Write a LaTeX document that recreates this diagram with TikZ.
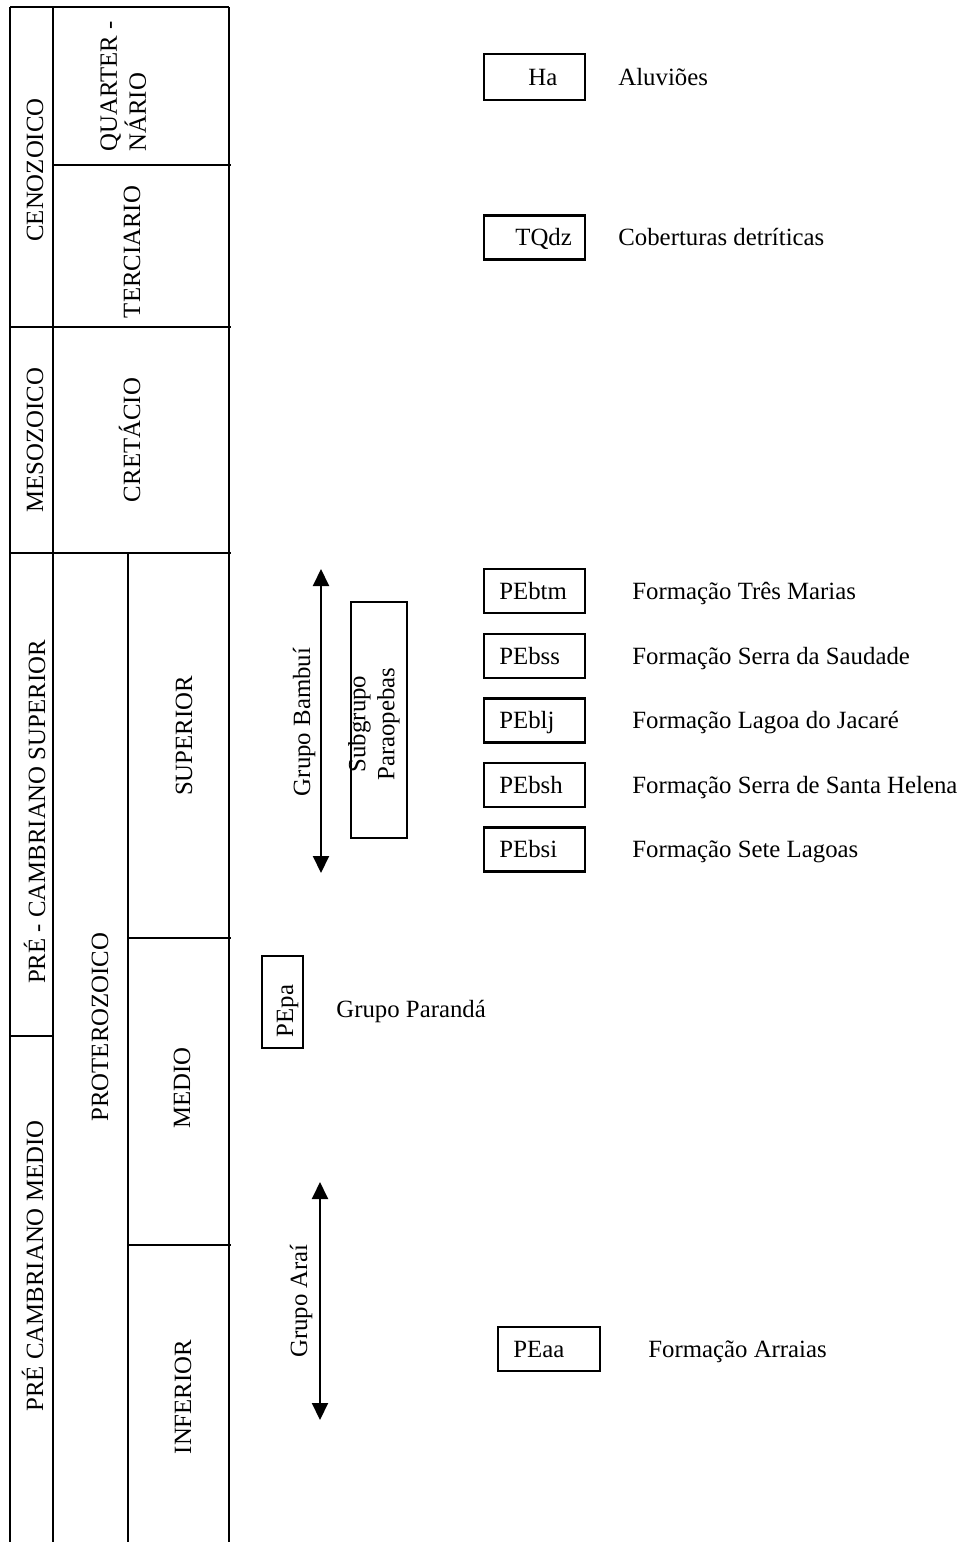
\documentclass[tikz,border=0pt]{standalone}
\usepackage{fontspec}
\setmainfont{Liberation Serif}
\usetikzlibrary{arrows.meta}
\begin{document}
\begin{tikzpicture}[x=0.5pt,y=-0.5pt,
  font=\fontsize{12.4}{14.5}\selectfont,
  rule/.style={line width=1pt},
  unitbox/.style={draw, line width=1.4pt, minimum width=50.5pt, minimum height=22pt, inner sep=0pt},
  tallbox/.style={draw, line width=1.3pt, inner sep=0pt},
  txt/.style={anchor=base west, inner sep=0pt},
  vlab/.style={rotate=90, anchor=base, inner sep=0pt},
  span/.style={line width=1pt, {Triangle[length=8.5pt,width=8pt]}-{Triangle[length=8.5pt,width=8pt]}}]
\useasboundingbox (0,0) rectangle (960,1542);
% ---- table grid ----
\draw[rule] (10,7) -- (229,7);
\draw[rule] (10,7) -- (10,1542);
\draw[rule] (53,7) -- (53,1542);
\draw[rule] (229,7) -- (229,1542);
\draw[rule] (128,553) -- (128,1542);
\draw[rule] (53,165) -- (231,165);
\draw[rule] (10,327) -- (231,327);
\draw[rule] (10,553) -- (231,553);
\draw[rule] (128,938) -- (231,938);
\draw[rule] (10,1036) -- (53,1036);
\draw[rule] (128,1245) -- (231,1245);
% ---- table labels ----
\node[vlab] (ceno) at (43,170) {CENOZOICO};
\node[rotate=90, anchor=north west, inner sep=0pt, align=left] (quat) at (100,152) {QUARTER -\\NÁRIO};
\node[vlab] (terc) at (140,252) {TERCIARIO};
\node[vlab] (meso) at (43,440) {MESOZOICO};
\node[vlab] (cret) at (140,440) {CRETÁCIO};
\node[vlab] (pcs) at (45,812) {PRÉ - CAMBRIANO SUPERIOR};
\node[vlab] (pcm) at (43,1266) {PRÉ CAMBRIANO MEDIO};
\node[vlab] (prot) at (108,1027) {PROTEROZOICO};
\node[vlab] (sup) at (192,736) {SUPERIOR};
\node[vlab] (med) at (190,1088) {MEDIO};
\node[vlab] (inf) at (191,1397) {INFERIOR};
% ---- units ----
\node[unitbox, minimum height=23pt] (bHa) at (534.5,77) {};
\node[txt] (tHa) at (528,85) {Ha};
\node[txt] (dHa) at (618,85) {Aluviões};
\node[unitbox] (bTQ) at (534.5,237.5) {};
\node[txt] (tTQ) at (515,245.5) {TQdz};
\node[txt] (dTQ) at (618,245.5) {Coberturas detríticas};

\node[unitbox] (b1) at (534.5,591) {};
\node[txt] (t1) at (499,599) {PEbtm};
\node[txt] (d1) at (632,599) {Formação Três Marias};
\node[unitbox] (b2) at (534.5,656) {};
\node[txt] (t2) at (499,664) {PEbss};
\node[txt] (d2) at (632,664) {Formação Serra da Saudade};
\node[unitbox] (b3) at (534.5,720.5) {};
\node[txt] (t3) at (499,728.5) {PEblj};
\node[txt] (d3) at (632,728.5) {Formação Lagoa do Jacaré};
\node[unitbox] (b4) at (534.5,785) {};
\node[txt] (t4) at (499,793) {PEbsh};
\node[txt] (d4) at (632,793) {Formação Serra de Santa Helena};
\node[unitbox] (b5) at (534.5,849.5) {};
\node[txt] (t5) at (499,857.5) {PEbsi};
\node[txt] (d5) at (632,857.5) {Formação Sete Lagoas};

\node[unitbox, minimum width=51pt] (bAA) at (549,1349) {};
\node[txt] (tAA) at (513,1357) {PEaa};
\node[txt] (dAA) at (648,1357) {Formação Arraias};

\node[tallbox, minimum width=20.5pt, minimum height=46pt] (bPA) at (282.5,1002) {};
\node[vlab] (tPA) at (293,1011) {PEpa};
\node[txt] (dPA) at (336,1017) {Grupo Parandá};

% ---- groups ----
\node[tallbox, line width=1.2pt, minimum width=28pt, minimum height=118pt] (bSP) at (379,720) {};
\node[rotate=90, inner sep=0pt, align=center] (tSP) at (374,724) {Subgrupo\\Paraopebas};

\coordinate (bbTop) at (321,569);
\coordinate (bbBot) at (321,873);
\draw[span] (bbTop) -- (bbBot);
\node[vlab] (gBB) at (310,722) {Grupo Bambuí};

\coordinate (arTop) at (320,1182);
\coordinate (arBot) at (320,1420);
\draw[span] (arTop) -- (arBot);
\node[vlab] (gAR) at (307,1301) {Grupo Araí};
\end{tikzpicture}
\end{document}
